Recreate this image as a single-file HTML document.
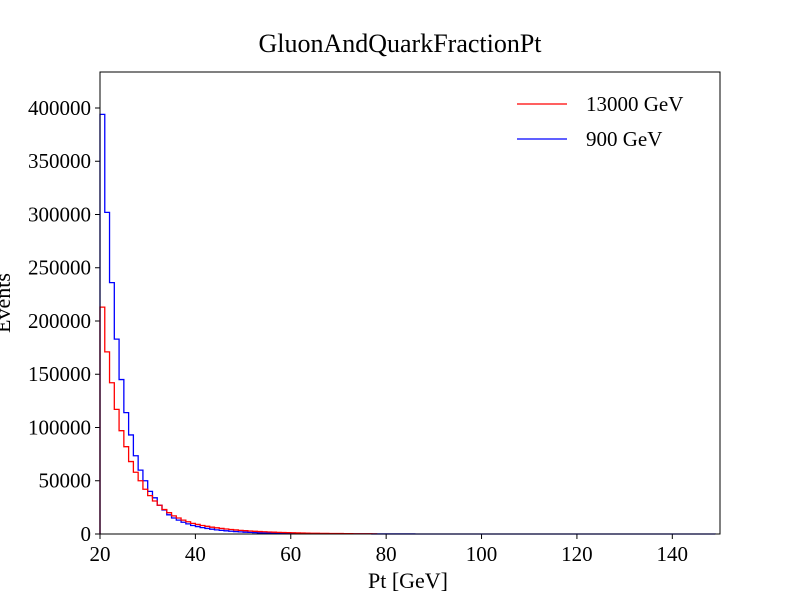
<!DOCTYPE html>
<html><head><meta charset="utf-8"><style>
body{margin:0;background:#fff;}
svg text{font-family:"Liberation Serif","DejaVu Serif",serif;fill:#000;}
</style></head><body>
<svg id="chart" width="800" height="600" xmlns="http://www.w3.org/2000/svg">
<rect width="800" height="600" fill="#fff"/>
<text x="400" y="52" font-size="26" text-anchor="middle">GluonAndQuarkFractionPt</text>
<g id="ticks"></g>
<g id="series"></g>
<rect x="100" y="72" width="620" height="462" fill="none" stroke="#000" stroke-width="1"/>
<text x="408" y="588" font-size="22" text-anchor="middle">Pt [GeV]</text>
<text transform="translate(10,303) rotate(-90)" font-size="22" text-anchor="middle">Events</text>
<g>
<line x1="517" y1="104" x2="567" y2="104" stroke="#f00" stroke-width="1.3"/>
<text x="586" y="111" font-size="21">13000 GeV</text>
<line x1="517" y1="139" x2="567" y2="139" stroke="#00f" stroke-width="1.3"/>
<text x="586" y="146" font-size="21">900 GeV</text>
</g>
</svg>
<script>
const binStart = 20;
const binWidth = 1;
const xTicks = [20,40,60,80,100,120,140];
const yTicks = [0,50000,100000,150000,200000,250000,300000,350000,400000];
const red13000 = [213000,171000,142000,117000,97000,82000,68000,58000,50000,42000,36000,31000,27000,23000,20000,17000,15000,13000,11500,10000,9000,8000,7200,6400,5800,5200,4700,4200,3800,3400,3100,2800,2500,2300,2100,1900,1700,1500,1400,1300,1200,1000,900,800,700,650,600,550,500,450,400,350,300,250,200,180,160,140];
const blue900 = [394000,302000,236000,183000,145000,114000,93000,73500,60000,50000,40000,34000,27000,22500,18000,15000,13000,11000,9500,8000,7000,6000,5200,4500,3900,3400,3000,2600,2300,2000,1700,1500,1300,1100,1000,900,800,700,600,500,450,400,360,320,290,260,230,210,190,170,150,140,130,120,110,100,90,80,70,65,60,55,50,45,40,38,35,32,30,28,26,24,22,20,18,17,16,15,14,13,12,11,10,10,9,9,8,8,7,7,6,6,5,5,5,4,4,4,3,3,3,3,2,2,2,2,2,2,1,1,1,1,1,1,1,1,1,1,1,1,1,1,1,1,1,1,1,1,1];
const X0=100,X1=720,Y0=534,Y1=72,xmin=20,xmax=150,ymin=0,ymax=433800;
const xs=v=>X0+(v-xmin)/(xmax-xmin)*(X1-X0);
const ys=v=>Y0-(v-ymin)/(ymax-ymin)*(Y0-Y1);
const NS="http://www.w3.org/2000/svg";
const tg=document.getElementById('ticks');
xTicks.forEach(t=>{
  const l=document.createElementNS(NS,'line');
  l.setAttribute('x1',xs(t));l.setAttribute('x2',xs(t));l.setAttribute('y1',Y0);l.setAttribute('y2',Y0+5);l.setAttribute('stroke','#000');
  
  
  tg.appendChild(l);
  const tx=document.createElementNS(NS,'text');
  tx.setAttribute('x',xs(t));tx.setAttribute('y',Y0+27);tx.setAttribute('font-size','21');tx.setAttribute('text-anchor','middle');tx.textContent=t;
  
  
  tg.appendChild(tx);
});
yTicks.forEach(t=>{
  const l=document.createElementNS(NS,'line');
  l.setAttribute('x1',X0-5);l.setAttribute('x2',X0);l.setAttribute('y1',ys(t));l.setAttribute('y2',ys(t));l.setAttribute('stroke','#000');
  
  
  tg.appendChild(l);
  const tx=document.createElementNS(NS,'text');
  tx.setAttribute('x',X0-9);tx.setAttribute('y',ys(t)+7);tx.setAttribute('font-size','21');tx.setAttribute('text-anchor','end');tx.textContent=t;
  
  
  tg.appendChild(tx);
});
function step(vals,color,name){
  let d='M'+xs(binStart)+','+ys(0);
  vals.forEach((v,i)=>{
    const a=xs(binStart+i*binWidth),b=xs(binStart+(i+1)*binWidth);
    d+=' L'+a+','+ys(v)+' L'+b+','+ys(v);
  });
  d+=' L'+xs(binStart+vals.length*binWidth)+','+ys(0);
  const p=document.createElementNS(NS,'path');
  p.setAttribute('d',d);p.setAttribute('fill','none');p.setAttribute('stroke',color);p.setAttribute('stroke-width','1.3');
  
  
  document.getElementById('series').appendChild(p);
}
step(blue900,'#00f','series-900-gev');
step(red13000,'#f00','series-13000-gev');
</script>
</body></html>
